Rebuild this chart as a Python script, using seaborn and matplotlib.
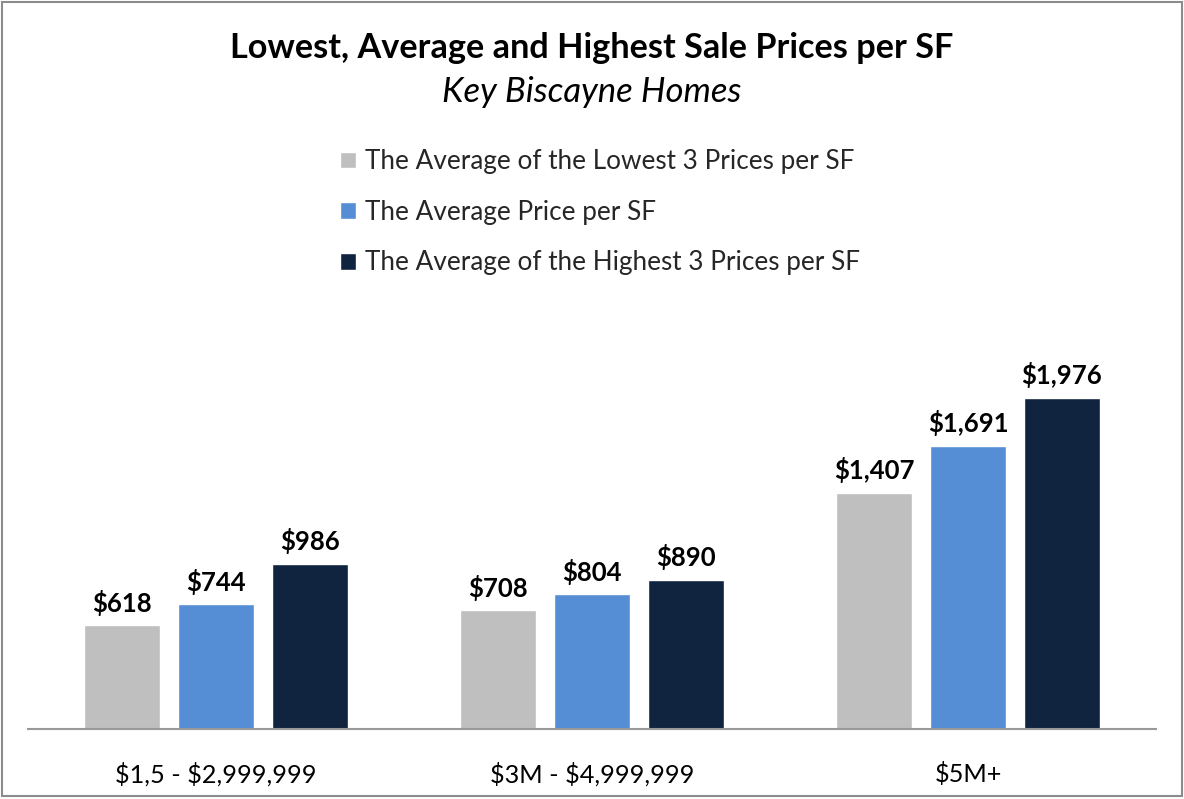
import matplotlib
matplotlib.use("Agg")
import matplotlib.pyplot as plt
import seaborn as sns
import pandas as pd
from matplotlib.patches import Rectangle

categories = ["$1,5 - $2,999,999", "$3M - $4,999,999", "$5M+"]
series_names = ["The Average of the Lowest 3 Prices per SF",
                "The Average Price per SF",
                "The Average of the Highest 3 Prices per SF"]
lowest = [618, 708, 1407]
average = [744, 804, 1691]
highest = [986, 890, 1976]
colors = ["#BFBFBF", "#558ED5", "#10243F"]

rows = []
for name, vals in zip(series_names, [lowest, average, highest]):
    for c, v in zip(categories, vals):
        rows.append({"cat": c, "series": name, "value": v})
df = pd.DataFrame(rows)

sns.set_theme(style="white")
plt.rcParams['font.family'] = ['Lato', 'DejaVu Sans']
plt.rcParams['text.parse_math'] = False

W, H = 1184, 799
fig = plt.figure(figsize=(W / 100, H / 100), dpi=100)
ax = fig.add_axes([28 / W, 1 - 729 / H, (1156 - 28) / W, (729 - 300) / H])

sns.barplot(data=df, x="cat", y="value", hue="series", order=categories,
            hue_order=series_names, palette=colors, width=0.75, gap=0.2,
            saturation=1, errorbar=None, ax=ax, legend=True)

ax.set_xlim(-0.5, 2.5)
ax.set_ylim(0, 2560)
ax.set_xlabel("")
ax.set_ylabel("")
ax.set_yticks([])
for s in ["top", "right", "left"]:
    ax.spines[s].set_visible(False)
ax.spines["bottom"].set_color("#999999")
ax.spines["bottom"].set_linewidth(1.5)
ax.tick_params(axis="x", length=0, pad=24, labelsize=18.2, labelcolor="black")

for cont in ax.containers:
    ax.bar_label(cont, labels=[f"${v:,.0f}" for v in cont.datavalues],
                 padding=7, fontsize=18.5, fontweight="bold", color="black")

handles, labels = ax.get_legend_handles_labels()
ax.legend(handles, labels, loc="upper left", bbox_to_anchor=(340 / W, 1 - 149 / H),
          bbox_transform=fig.transFigure, frameon=False, fontsize=18.8,
          handlelength=0.6, handleheight=0.6, handletextpad=0.35,
          labelspacing=0.985, borderaxespad=0, borderpad=0)

fig.text(0.5, 1 - 48 / H, "Lowest, Average and Highest Sale Prices per SF",
         ha="center", va="center", fontsize=24.7, fontweight="bold", color="black")
fig.text(0.5, 1 - 92 / H, "Key Biscayne Homes", ha="center", va="center",
         fontsize=25, fontstyle="italic", color="black")

fig.patches.append(Rectangle((2 / W, 3 / H), 1 - 4 / W, 1 - 5 / H, transform=fig.transFigure,
                             fill=False, edgecolor="#8C8C8C", linewidth=1.5))

fig.savefig("out.png", dpi=100)
